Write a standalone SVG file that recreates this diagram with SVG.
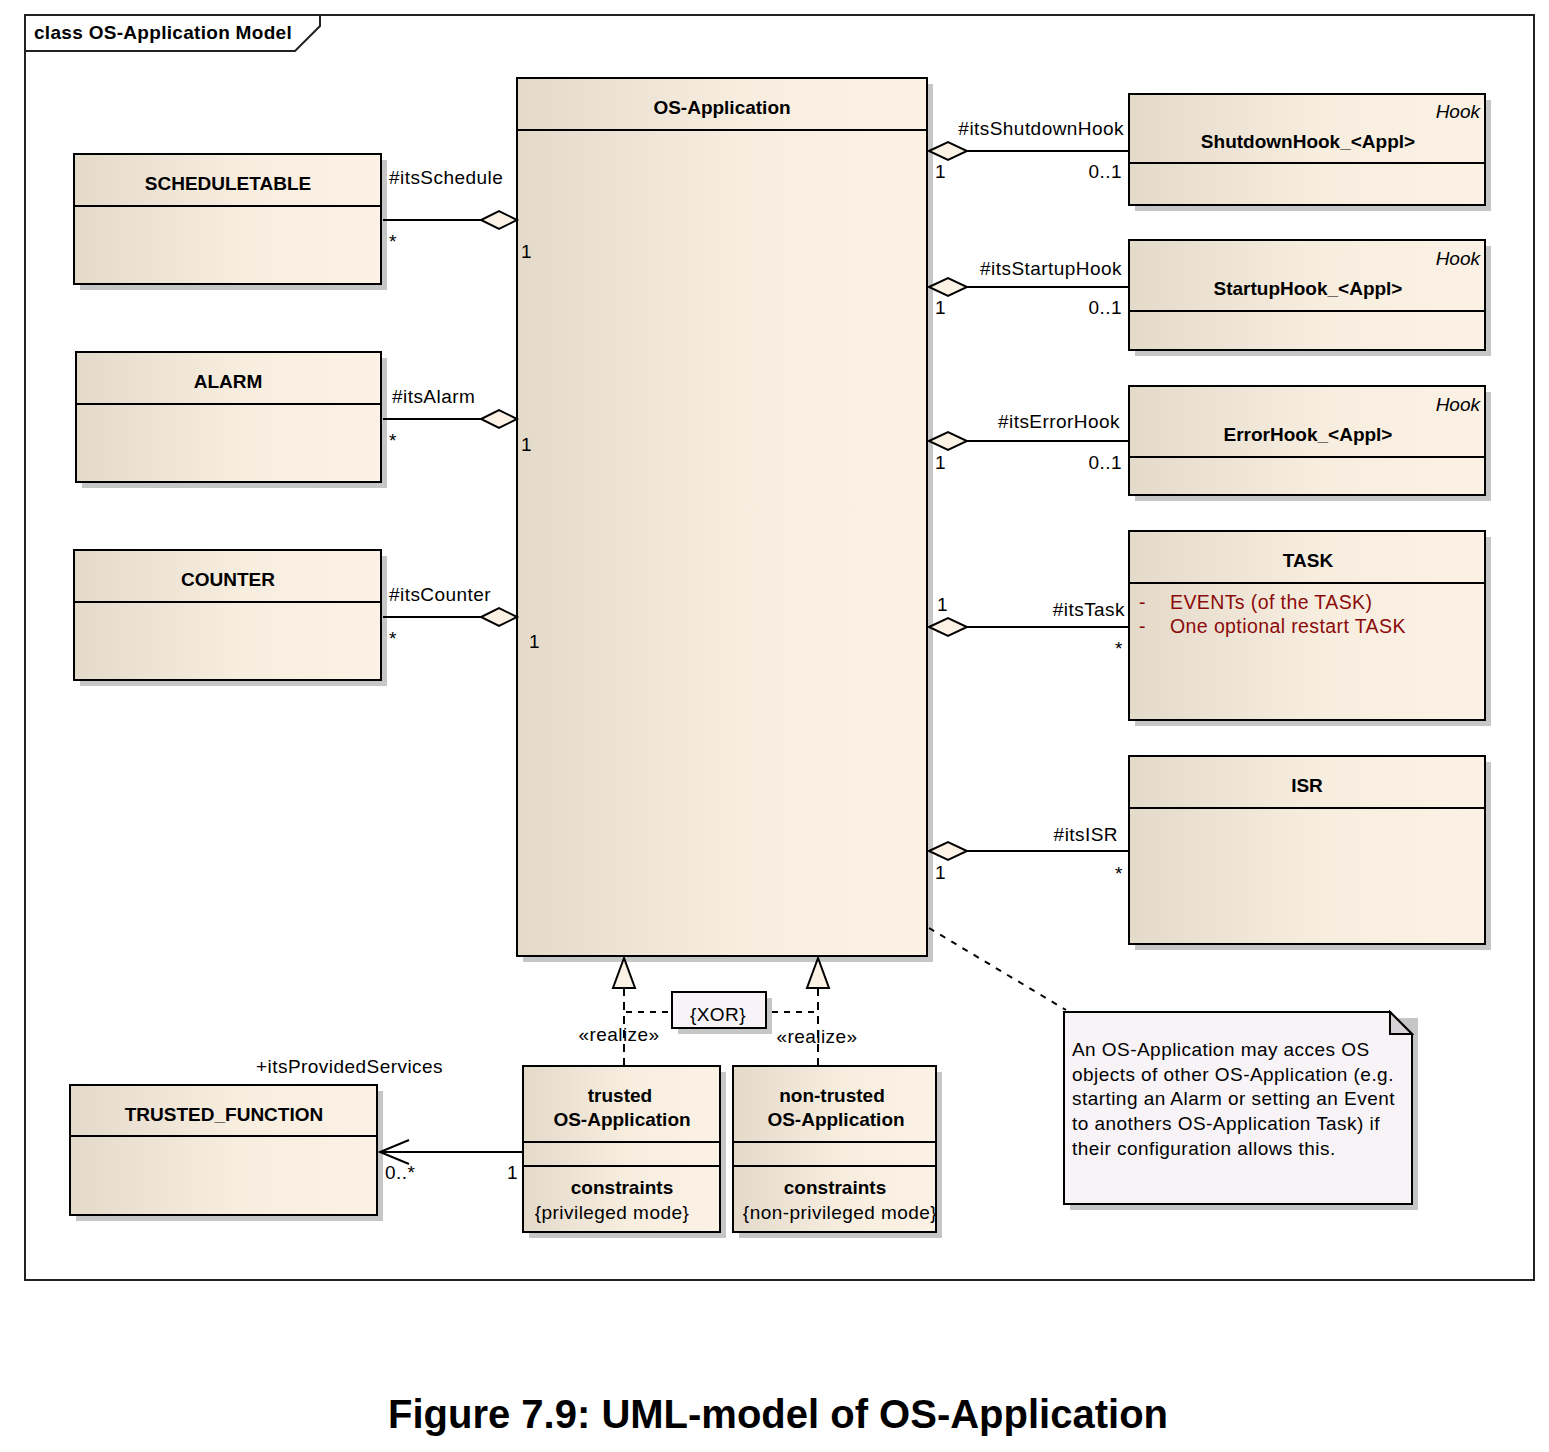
<svg xmlns="http://www.w3.org/2000/svg" width="1549" height="1452" viewBox="0 0 1549 1452">
<defs>
<linearGradient id="cls" x1="0" y1="0" x2="1" y2="0">
<stop offset="0" stop-color="#E4DACA"/>
<stop offset="0.55" stop-color="#F8EEE0"/>
<stop offset="1" stop-color="#FBF1E4"/>
</linearGradient>
<style>
.box{fill:url(#cls);stroke:#000;stroke-width:2}
.sh{fill:#C6C6C6}
.div{stroke:#000;stroke-width:2}
.t{font-family:"Liberation Sans",Arial,sans-serif;font-size:19px;fill:#000;letter-spacing:0.45px}
.b{font-family:"Liberation Sans",Arial,sans-serif;font-size:19px;font-weight:bold;fill:#000}
.ttl{letter-spacing:0.3px}
.i{font-family:"Liberation Sans",Arial,sans-serif;font-size:19px;font-style:italic;fill:#000}
.attr{font-family:"Liberation Sans",Arial,sans-serif;font-size:19.5px;fill:#8B0A0A;letter-spacing:0.4px}
.ln{stroke:#000;stroke-width:2;fill:none}
.dash{stroke:#000;stroke-width:2;fill:none;stroke-dasharray:8 6}
.dash2{stroke:#000;stroke-width:2;fill:none;stroke-dasharray:6 6}
.dia{fill:#FBF1E4;stroke:#000;stroke-width:2}
.tri{fill:#FBF1E4;stroke:#000;stroke-width:2}
.note{fill:#F7F3F7;stroke:#000;stroke-width:2}
</style>
</defs>
<rect width="1549" height="1452" fill="#fff"/>

<g id="frame">
<rect x="25" y="15" width="1509" height="1265" fill="none" stroke="#222" stroke-width="2"/>
<polygon points="25,15 320,15 320,26 295,51 25,51" fill="#fff" stroke="#222" stroke-width="2"/>
<text class="b ttl" x="34" y="39">class OS-Application Model</text>
</g>

<g id="SCHEDULETABLE">
<rect class="sh" x="80" y="160" width="307" height="130"/>
<rect class="box" x="74" y="154" width="307" height="130"/>
<line class="div" x1="74" y1="206" x2="381" y2="206"/>
<text class="b" x="228" y="190" text-anchor="middle">SCHEDULETABLE</text>
</g>

<g id="ALARM">
<rect class="sh" x="82" y="358" width="305" height="130"/>
<rect class="box" x="76" y="352" width="305" height="130"/>
<line class="div" x1="76" y1="404" x2="381" y2="404"/>
<text class="b" x="228" y="388" text-anchor="middle">ALARM</text>
</g>

<g id="COUNTER">
<rect class="sh" x="80" y="556" width="307" height="130"/>
<rect class="box" x="74" y="550" width="307" height="130"/>
<line class="div" x1="74" y1="602" x2="381" y2="602"/>
<text class="b" x="228" y="586" text-anchor="middle">COUNTER</text>
</g>

<g id="OS-Application">
<rect class="sh" x="523" y="84" width="410" height="878"/>
<rect class="box" x="517" y="78" width="410" height="878"/>
<line class="div" x1="517" y1="130" x2="927" y2="130"/>
<text class="b" x="722" y="114" text-anchor="middle">OS-Application</text>
</g>

<g id="ShutdownHook">
<rect class="sh" x="1135" y="100" width="356" height="111"/>
<rect class="box" x="1129" y="94" width="356" height="111"/>
<line class="div" x1="1129" y1="163" x2="1485" y2="163"/>
<text class="i" x="1480" y="118" text-anchor="end">Hook</text>
<text class="b" x="1308" y="148" text-anchor="middle">ShutdownHook_&lt;Appl&gt;</text>
</g>

<g id="StartupHook">
<rect class="sh" x="1135" y="246" width="356" height="110"/>
<rect class="box" x="1129" y="240" width="356" height="110"/>
<line class="div" x1="1129" y1="311" x2="1485" y2="311"/>
<text class="i" x="1480" y="265" text-anchor="end">Hook</text>
<text class="b" x="1308" y="295" text-anchor="middle">StartupHook_&lt;Appl&gt;</text>
</g>

<g id="ErrorHook">
<rect class="sh" x="1135" y="392" width="356" height="109"/>
<rect class="box" x="1129" y="386" width="356" height="109"/>
<line class="div" x1="1129" y1="457" x2="1485" y2="457"/>
<text class="i" x="1480" y="411" text-anchor="end">Hook</text>
<text class="b" x="1308" y="441" text-anchor="middle">ErrorHook_&lt;Appl&gt;</text>
</g>

<g id="TASK">
<rect class="sh" x="1135" y="537" width="356" height="189"/>
<rect class="box" x="1129" y="531" width="356" height="189"/>
<line class="div" x1="1129" y1="583" x2="1485" y2="583"/>
<text class="b" x="1308" y="567" text-anchor="middle">TASK</text>
<text class="attr" x="1139" y="609">-</text>
<text class="attr" x="1170" y="609">EVENTs (of the TASK)</text>
<text class="attr" x="1139" y="633">-</text>
<text class="attr" x="1170" y="633">One optional restart TASK</text>
</g>

<g id="ISR">
<rect class="sh" x="1135" y="762" width="356" height="188"/>
<rect class="box" x="1129" y="756" width="356" height="188"/>
<line class="div" x1="1129" y1="808" x2="1485" y2="808"/>
<text class="b" x="1307" y="792" text-anchor="middle">ISR</text>
</g>

<g id="TRUSTED_FUNCTION">
<rect class="sh" x="76" y="1091" width="307" height="130"/>
<rect class="box" x="70" y="1085" width="307" height="130"/>
<line class="div" x1="70" y1="1136" x2="377" y2="1136"/>
<text class="b" x="224" y="1121" text-anchor="middle">TRUSTED_FUNCTION</text>
</g>

<g id="trusted-OS-Application">
<rect class="sh" x="529" y="1072" width="197" height="166"/>
<rect class="box" x="523" y="1066" width="197" height="166"/>
<line class="div" x1="523" y1="1142" x2="720" y2="1142"/>
<line class="div" x1="523" y1="1166" x2="720" y2="1166"/>
<text class="b" x="620" y="1102" text-anchor="middle">trusted</text>
<text class="b" x="622" y="1126" text-anchor="middle">OS-Application</text>
<text class="b" x="622" y="1194" text-anchor="middle">constraints</text>
<text class="t" x="612" y="1219" text-anchor="middle">{privileged mode}</text>
</g>

<g id="non-trusted-OS-Application">
<rect class="sh" x="739" y="1072" width="203" height="166"/>
<rect class="box" x="733" y="1066" width="203" height="166"/>
<line class="div" x1="733" y1="1142" x2="936" y2="1142"/>
<line class="div" x1="733" y1="1166" x2="936" y2="1166"/>
<text class="b" x="832" y="1102" text-anchor="middle">non-trusted</text>
<text class="b" x="836" y="1126" text-anchor="middle">OS-Application</text>
<text class="b" x="835" y="1194" text-anchor="middle">constraints</text>
<text class="t" x="840" y="1219" text-anchor="middle">{non-privileged mode}</text>
</g>

<g id="XOR">
<rect x="678" y="998" width="94" height="36" fill="#C6C6C6"/>
<rect class="note" x="672" y="992" width="94" height="36"/>
<text class="t" x="718" y="1021" text-anchor="middle">{XOR}</text>
</g>

<g id="note">
<polygon points="1070,1018 1418,1018 1418,1210 1070,1210" fill="#C6C6C6"/>
<polygon class="note" points="1064,1012 1390,1012 1412,1034 1412,1204 1064,1204"/>
<polygon points="1390,1012 1390,1034 1412,1034" fill="#D6D2D6" stroke="#000" stroke-width="2" stroke-linejoin="miter"/>
<text class="t" x="1072" y="1056">An OS-Application may acces OS</text>
<text class="t" x="1072" y="1081">objects of other OS-Application (e.g.</text>
<text class="t" x="1072" y="1105">starting an Alarm or setting an Event</text>
<text class="t" x="1072" y="1130">to anothers OS-Application Task) if</text>
<text class="t" x="1072" y="1155">their configuration allows this.</text>
</g>

<g id="connectors">
<!-- SCHEDULETABLE -->
<line class="ln" x1="383" y1="220" x2="481" y2="220"/>
<polygon class="dia" points="517,220 499,211 481,220 499,229"/>
<text class="t" x="389" y="184">#itsSchedule</text>
<text class="t" x="389" y="248">*</text>
<text class="t" x="521" y="258">1</text>
<!-- ALARM -->
<line class="ln" x1="383" y1="419" x2="481" y2="419"/>
<polygon class="dia" points="517,419 499,410 481,419 499,428"/>
<text class="t" x="392" y="403">#itsAlarm</text>
<text class="t" x="389" y="447">*</text>
<text class="t" x="521" y="451">1</text>
<!-- COUNTER -->
<line class="ln" x1="383" y1="617" x2="481" y2="617"/>
<polygon class="dia" points="517,617 499,608 481,617 499,626"/>
<text class="t" x="389" y="601">#itsCounter</text>
<text class="t" x="389" y="645">*</text>
<text class="t" x="529" y="648">1</text>
<!-- ShutdownHook -->
<line class="ln" x1="965" y1="151" x2="1129" y2="151"/>
<polygon class="dia" points="929,151 948,142 967,151 948,160"/>
<text class="t" x="1124" y="135" text-anchor="end">#itsShutdownHook</text>
<text class="t" x="935" y="178">1</text>
<text class="t" x="1122" y="178" text-anchor="end">0..1</text>
<!-- StartupHook -->
<line class="ln" x1="965" y1="287" x2="1129" y2="287"/>
<polygon class="dia" points="929,287 948,278 967,287 948,296"/>
<text class="t" x="1122" y="275" text-anchor="end">#itsStartupHook</text>
<text class="t" x="935" y="314">1</text>
<text class="t" x="1122" y="314" text-anchor="end">0..1</text>
<!-- ErrorHook -->
<line class="ln" x1="965" y1="441" x2="1129" y2="441"/>
<polygon class="dia" points="929,441 948,432 967,441 948,450"/>
<text class="t" x="1120" y="428" text-anchor="end">#itsErrorHook</text>
<text class="t" x="935" y="469">1</text>
<text class="t" x="1122" y="469" text-anchor="end">0..1</text>
<!-- TASK -->
<line class="ln" x1="965" y1="627" x2="1129" y2="627"/>
<polygon class="dia" points="929,627 948,618 967,627 948,636"/>
<text class="t" x="1125" y="616" text-anchor="end">#itsTask</text>
<text class="t" x="937" y="611">1</text>
<text class="t" x="1115" y="655">*</text>
<!-- ISR -->
<line class="ln" x1="965" y1="851" x2="1129" y2="851"/>
<polygon class="dia" points="929,851 948,842 967,851 948,860"/>
<text class="t" x="1118" y="841" text-anchor="end">#itsISR</text>
<text class="t" x="935" y="879">1</text>
<text class="t" x="1115" y="880">*</text>
<!-- note link -->
<line class="ln" x1="929" y1="928" x2="1066" y2="1010" stroke-dasharray="6 7"/>
<!-- realizations -->
<line class="dash" x1="624" y1="988" x2="624" y2="1066"/>
<polygon class="tri" points="624,958 613,988 635,988"/>
<line class="dash" x1="818" y1="988" x2="818" y2="1066"/>
<polygon class="tri" points="818,958 807,988 829,988"/>
<text class="t" x="619" y="1041" text-anchor="middle">«realize»</text>
<text class="t" x="817" y="1043" text-anchor="middle">«realize»</text>
<!-- XOR constraint -->
<line class="dash2" x1="626" y1="1012" x2="672" y2="1012"/>
<line class="dash2" x1="772" y1="1012" x2="818" y2="1012"/>
<!-- provided services -->
<line class="ln" x1="523" y1="1152" x2="380" y2="1152"/>
<polyline class="ln" points="409,1140 380,1152 409,1164"/>
<text class="t" x="443" y="1073" text-anchor="end">+itsProvidedServices</text>
<text class="t" x="385" y="1179">0..*</text>
<text class="t" x="507" y="1179">1</text>
</g>

<text x="778" y="1428" text-anchor="middle" font-family="Liberation Sans, Arial, sans-serif" font-size="40" font-weight="bold">Figure 7.9: UML-model of OS-Application</text>
</svg>
